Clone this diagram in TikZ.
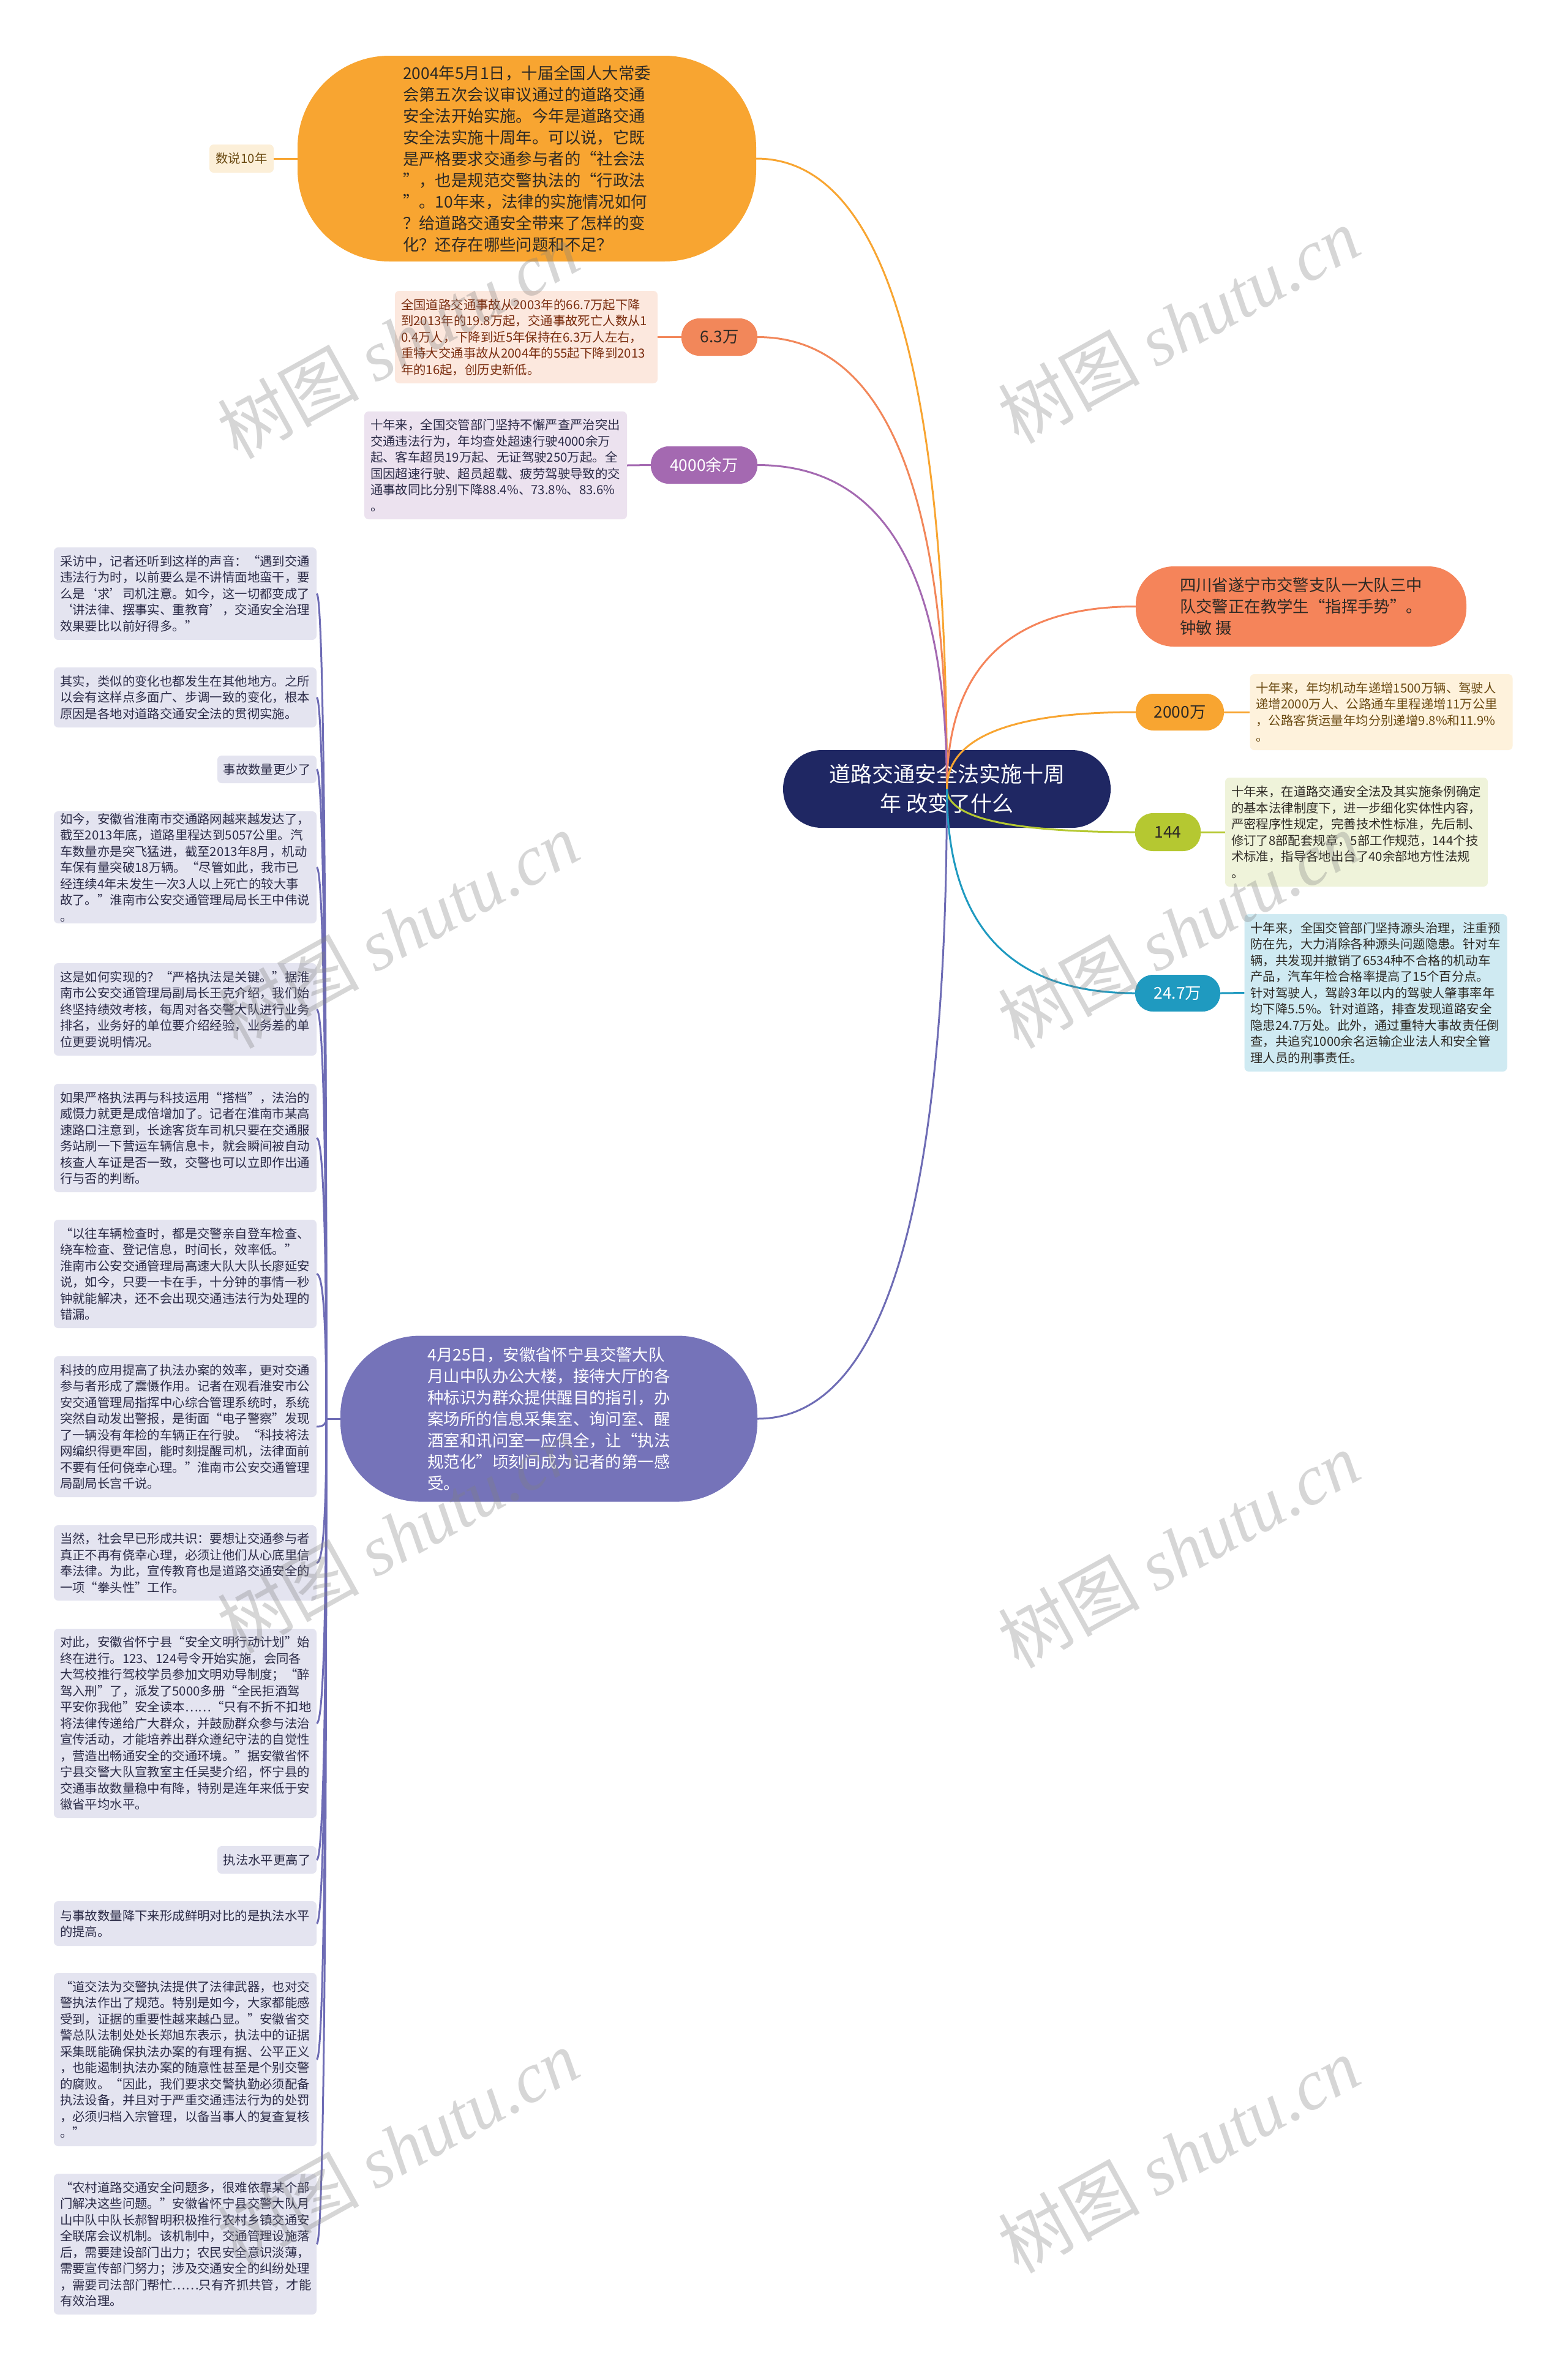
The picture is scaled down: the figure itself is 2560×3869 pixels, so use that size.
\documentclass[tikz,border=0pt]{standalone}
\usepackage{fontspec}
\setmainfont{Noto Sans CJK SC}
\newfontfamily\wmlat{Liberation Serif}
\usetikzlibrary{calc}
\definecolor{cOr}{HTML}{F8A531}
\definecolor{cTag}{HTML}{FCEFD8}
\definecolor{cCo}{HTML}{F2875A}
\definecolor{cCoBox}{HTML}{FCE8DE}
\definecolor{cCoTxt}{HTML}{7B2E10}
\definecolor{cPu}{HTML}{A469B1}
\definecolor{cPuBox}{HTML}{ECE2EF}
\definecolor{cSc}{HTML}{F5845A}
\definecolor{cYeBox}{HTML}{FEF2DC}
\definecolor{cYeTxt}{HTML}{6B4A12}
\definecolor{cGr}{HTML}{B5C831}
\definecolor{cGrBox}{HTML}{EFF3DA}
\definecolor{cTe}{HTML}{1F9AC0}
\definecolor{cTeBox}{HTML}{CFEAF2}
\definecolor{cRoot}{HTML}{1F2763}
\definecolor{cVi}{HTML}{7573B9}
\definecolor{cViLine}{HTML}{6E6CB5}
\definecolor{cViBox}{HTML}{E4E4F0}
\definecolor{cDark}{HTML}{2E2A25}
\definecolor{cViTxt}{HTML}{2C2C48}
\newcommand\ftxts{\fontsize{20.4pt}{26.5pt}\selectfont}
\newcommand\ftxtb{\fontsize{26.4pt}{35pt}\selectfont}
\newcommand\ftxtr{\fontsize{35pt}{48pt}\selectfont}
\newcommand\ftxtp{\fontsize{26.4pt}{30pt}\selectfont}
\newcommand\ftxtw{\fontsize{116pt}{120pt}\selectfont}
\newcommand\qcurve[3]{\draw[#1] (#2) .. controls ($(#2)!0.667!(#2 -| #3)$) and ($(#3)!0.667!(#2 -| #3)$) .. (#3);}
\begin{document}
\begin{tikzpicture}[x=1pt,y=-1pt,
  sbox/.style={rounded corners=7pt, inner xsep=10pt, inner ysep=0pt, align=left, text width=409pt, font=\ftxts},
  tbox/.style={rounded corners=7pt, inner xsep=9pt, inner ysep=0pt, align=center, font=\ftxts},
  pill/.style={rounded corners=29pt, inner sep=0pt, align=center, font=\ftxtp},
  bignode/.style={inner sep=0pt, align=left, font=\ftxtb},
  edge/.style={line width=3pt},
  ledge/.style={line width=3pt, draw=cViLine},
  wm/.style={rotate=29, text=gray, text opacity=0.32, font=\ftxtw, inner sep=0pt}]
\useasboundingbox (0,0) rectangle (2560,3869);
\fill[white] (0,0) rectangle (2560,3869);

% ---------- root ----------
\node[fill=cRoot, rounded corners=63pt, minimum width=535pt, minimum height=127pt, inner sep=0pt, align=center, font=\ftxtr, text=white] (root) at (1546.5,1288.5) {道路交通安全法实施十周\\年 改变了什么};

% ---------- top orange ----------
\node[bignode, fill=cOr, rounded corners=150pt, minimum width=749pt, minimum height=336pt, text=cDark] (top) at (860.5,259) {2004年5月1日，十届全国人大常委\\会第五次会议审议通过的道路交通\\安全法开始实施。今年是道路交通\\安全法实施十周年。可以说，它既\\是严格要求交通参与者的“社会法\\”，也是规范交警执法的“行政法\\”。10年来，法律的实施情况如何\\？给道路交通安全带来了怎样的变\\化？还存在哪些问题和不足？};
\node[tbox, fill=cTag, minimum width=105pt, minimum height=46pt, text=cYeTxt] (tag) at (394.5,259) {数说10年};

% ---------- 6.3万 ----------
\node[pill, fill=cCo, minimum width=124pt, minimum height=61pt, text=cDark] (p63) at (1175,550.5) {6.3万};
\node[sbox, fill=cCoBox, minimum height=151pt, text=cCoTxt] (b63) at (859.5,550.5) {全国道路交通事故从2003年的66.7万起下降\\到2013年的19.8万起，交通事故死亡人数从1\\0.4万人，下降到近5年保持在6.3万人左右，\\重特大交通事故从2004年的55起下降到2013\\年的16起，创历史新低。};

% ---------- 4000余万 ----------
\node[pill, fill=cPu, minimum width=174pt, minimum height=61pt, text=white] (p4000) at (1150,759.5) {4000余万};
\node[sbox, fill=cPuBox, minimum height=176pt, text=cViTxt] (b4000) at (809.5,760) {十年来，全国交管部门坚持不懈严查严治突出\\交通违法行为，年均查处超速行驶4000余万\\起、客车超员19万起、无证驾驶250万起。全\\国因超速行驶、超员超载、疲劳驾驶导致的交\\通事故同比分别下降88.4\%、73.8\%、83.6\%\\。};

% ---------- Sichuan ----------
\node[bignode, fill=cSc, rounded corners=62pt, minimum width=540pt, minimum height=131pt, text=cDark] (sc) at (2125,990.5) {四川省遂宁市交警支队一大队三中\\队交警正在教学生“指挥手势”。\\钟敏 摄};

% ---------- 2000万 ----------
\node[pill, fill=cOr, minimum width=144pt, minimum height=60pt, text=cDark] (p2000) at (1927,1163) {2000万};
\node[sbox, fill=cYeBox, minimum height=124pt, text=cYeTxt] (b2000) at (2256,1163) {十年来，年均机动车递增1500万辆、驾驶人\\递增2000万人、公路通车里程递增11万公里\\，公路客货运量年均分别递增9.8\%和11.9\%\\。};

% ---------- 144 ----------
\node[pill, fill=cGr, minimum width=107pt, minimum height=62pt, text=cDark] (p144) at (1907.5,1359) {144};
\node[sbox, fill=cGrBox, minimum height=178pt, text=cDark] (b144) at (2215.5,1359) {十年来，在道路交通安全法及其实施条例确定\\的基本法律制度下，进一步细化实体性内容，\\严密程序性规定，完善技术性标准，先后制、\\修订了8部配套规章，5部工作规范，144个技\\术标准，指导各地出台了40余部地方性法规\\。};

% ---------- 24.7万 ----------
\node[pill, fill=cTe, minimum width=139pt, minimum height=60pt, text=white] (p247) at (1923.5,1622) {24.7万};
\node[sbox, fill=cTeBox, minimum height=257pt, text=cDark] (b247) at (2247,1621.5) {十年来，全国交管部门坚持源头治理，注重预\\防在先，大力消除各种源头问题隐患。针对车\\辆，共发现并撤销了6534种不合格的机动车\\产品，汽车年检合格率提高了15个百分点。\\针对驾驶人，驾龄3年以内的驾驶人肇事率年\\均下降5.5\%。针对道路，排查发现道路安全\\隐患24.7万处。此外，通过重特大事故责任倒\\查，共追究1000余名运输企业法人和安全管\\理人员的刑事责任。};

% ---------- purple node ----------
\node[bignode, fill=cVi, rounded corners=130pt, minimum width=681pt, minimum height=271pt, text=white] (pp) at (896.5,2317) {4月25日，安徽省怀宁县交警大队\\月山中队办公大楼，接待大厅的各\\种标识为群众提供醒目的指引，办\\案场所的信息采集室、询问室、醒\\酒室和讯问室一应俱全，让“执法\\规范化”顷刻间成为记者的第一感\\受。};

% ---------- left column ----------
\node[sbox, fill=cViBox, minimum height=151pt, text=cViTxt] (L1) at (302.5,969.5) {采访中，记者还听到这样的声音：“遇到交通\\违法行为时，以前要么是不讲情面地蛮干，要\\么是‘求’司机注意。如今，这一切都变成了\\‘讲法律、摆事实、重教育’，交通安全治理\\效果要比以前好得多。”};
\node[sbox, fill=cViBox, minimum height=98pt, text=cViTxt] (L2) at (302.5,1139) {其实，类似的变化也都发生在其他地方。之所\\以会有这样点多面广、步调一致的变化，根本\\原因是各地对道路交通安全法的贯彻实施。};
\node[tbox, fill=cViBox, minimum width=162pt, minimum height=45pt, text=cViTxt] (L3) at (436,1256.5) {事故数量更少了};
\node[sbox, fill=cViBox, minimum height=183pt, text=cViTxt] (L4) at (302.5,1416.5) {如今，安徽省淮南市交通路网越来越发达了，\\截至2013年底，道路里程达到5057公里。汽\\车数量亦是突飞猛进，截至2013年8月，机动\\车保有量突破18万辆。“尽管如此，我市已\\经连续4年未发生一次3人以上死亡的较大事\\故了。”淮南市公安交通管理局局长王中伟说\\。};
\node[sbox, fill=cViBox, minimum height=151pt, text=cViTxt] (L5) at (302.5,1648.5) {这是如何实现的？“严格执法是关键。”据淮\\南市公安交通管理局副局长王克介绍，我们始\\终坚持绩效考核，每周对各交警大队进行业务\\排名，业务好的单位要介绍经验，业务差的单\\位更要说明情况。};
\node[sbox, fill=cViBox, minimum height=177pt, text=cViTxt] (L6) at (302.5,1858.5) {如果严格执法再与科技运用“搭档”，法治的\\威慑力就更是成倍增加了。记者在淮南市某高\\速路口注意到，长途客货车司机只要在交通服\\务站刷一下营运车辆信息卡，就会瞬间被自动\\核查人车证是否一致，交警也可以立即作出通\\行与否的判断。};
\node[sbox, fill=cViBox, minimum height=177pt, text=cViTxt] (L7) at (302.5,2080.5) {“以往车辆检查时，都是交警亲自登车检查、\\绕车检查、登记信息，时间长，效率低。”\\淮南市公安交通管理局高速大队大队长廖延安\\说，如今，只要一卡在手，十分钟的事情一秒\\钟就能解决，还不会出现交通违法行为处理的\\错漏。};
\node[sbox, fill=cViBox, minimum height=230pt, text=cViTxt] (L8) at (302.5,2330) {科技的应用提高了执法办案的效率，更对交通\\参与者形成了震慑作用。记者在观看淮安市公\\安交通管理局指挥中心综合管理系统时，系统\\突然自动发出警报，是街面“电子警察”发现\\了一辆没有年检的车辆正在行驶。“科技将法\\网编织得更牢固，能时刻提醒司机，法律面前\\不要有任何侥幸心理。”淮南市公安交通管理\\局副局长宫千说。};
\node[sbox, fill=cViBox, minimum height=123pt, text=cViTxt] (L9) at (302.5,2552.5) {当然，社会早已形成共识：要想让交通参与者\\真正不再有侥幸心理，必须让他们从心底里信\\奉法律。为此，宣传教育也是道路交通安全的\\一项“拳头性”工作。};
\node[sbox, fill=cViBox, minimum height=309pt, text=cViTxt] (L10) at (302.5,2814.5) {对此，安徽省怀宁县“安全文明行动计划”始\\终在进行。123、124号令开始实施，会同各\\大驾校推行驾校学员参加文明劝导制度；“醉\\驾入刑”了，派发了5000多册“全民拒酒驾\\平安你我他”安全读本……“只有不折不扣地\\将法律传递给广大群众，并鼓励群众参与法治\\宣传活动，才能培养出群众遵纪守法的自觉性\\，营造出畅通安全的交通环境。”据安徽省怀\\宁县交警大队宣教室主任吴斐介绍，怀宁县的\\交通事故数量稳中有降，特别是连年来低于安\\徽省平均水平。};
\node[tbox, fill=cViBox, minimum width=162pt, minimum height=45pt, text=cViTxt] (L11) at (436,3037.5) {执法水平更高了};
\node[sbox, fill=cViBox, minimum height=73pt, text=cViTxt] (L12) at (302.5,3141.5) {与事故数量降下来形成鲜明对比的是执法水平\\的提高。};
\node[sbox, fill=cViBox, minimum height=283pt, text=cViTxt] (L13) at (302.5,3363.5) {“道交法为交警执法提供了法律武器，也对交\\警执法作出了规范。特别是如今，大家都能感\\受到，证据的重要性越来越凸显。”安徽省交\\警总队法制处处长郑旭东表示，执法中的证据\\采集既能确保执法办案的有理有据、公平正义\\，也能遏制执法办案的随意性甚至是个别交警\\的腐败。“因此，我们要求交警执勤必须配备\\执法设备，并且对于严重交通违法行为的处罚\\，必须归档入宗管理，以备当事人的复查复核\\。”};
\node[sbox, fill=cViBox, minimum height=230pt, text=cViTxt] (L14) at (302.5,3665) {“农村道路交通安全问题多，很难依靠某个部\\门解决这些问题。”安徽省怀宁县交警大队月\\山中队中队长郝智明积极推行农村乡镇交通安\\全联席会议机制。该机制中，交通管理设施落\\后，需要建设部门出力；农民安全意识淡薄，\\需要宣传部门努力；涉及交通安全的纠纷处理\\，需要司法部门帮忙……只有齐抓共管，才能\\有效治理。};

% ---------- connectors ----------
\draw[edge, cOr] (tag.east) -- (top.west);
\draw[edge, cCo] (p63.west) -- (b63.east);
\draw[edge, cPu] (p4000.west) -- (b4000.east);
\draw[edge, cOr] (p2000.east) -- (b2000.west);
\draw[edge, cGr] (p144.east) -- (b144.west);
\draw[edge, cTe] (p247.east) -- (b247.west);

\qcurve{edge, cOr}{top.east}{root.center}
\qcurve{edge, cCo}{p63.east}{root.center}
\qcurve{edge, cPu}{p4000.east}{root.center}
\qcurve{edge, cViLine}{pp.east}{root.center}
\qcurve{edge, cSc}{sc.west}{root.center}
\qcurve{edge, cOr}{p2000.west}{root.center}
\qcurve{edge, cGr}{p144.west}{root.center}
\qcurve{edge, cTe}{p247.west}{root.center}

\coordinate (sp) at (533,2317);
\draw[ledge] (pp.west) -- (sp);
\foreach \n in {L1,L2,L3,L4,L5,L6,L7,L8,L9,L10,L11,L12,L13,L14}{
  \qcurve{ledge}{\n.east}{sp}
}

% ---------- watermarks ----------
\node[wm] (w1) at (650,556) {树图 {\wmlat\itshape shutu.cn}};
\node[wm] (w2) at (1925,531) {树图 {\wmlat\itshape shutu.cn}};
\node[wm] (w3) at (650,1519) {树图 {\wmlat\itshape shutu.cn}};
\node[wm] (w4) at (1925,1519) {树图 {\wmlat\itshape shutu.cn}};
\node[wm] (w5) at (650,2507) {树图 {\wmlat\itshape shutu.cn}};
\node[wm] (w6) at (1925,2531) {树图 {\wmlat\itshape shutu.cn}};
\node[wm] (w7) at (650,3507) {树图 {\wmlat\itshape shutu.cn}};
\node[wm] (w8) at (1925,3519) {树图 {\wmlat\itshape shutu.cn}};
\end{tikzpicture}
\end{document}
